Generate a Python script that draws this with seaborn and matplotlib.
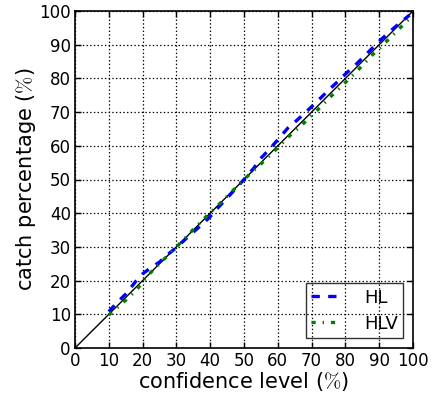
import matplotlib
matplotlib.use("Agg")
import matplotlib.pyplot as plt
import seaborn as sns
import pandas as pd

conf = [10, 12, 15, 18, 20, 22, 25, 28, 30, 33, 35, 38, 40, 42, 45, 48, 50, 53, 55, 58,
        60, 63, 65, 68, 70, 73, 75, 78, 80, 83, 85, 88, 90, 93, 95, 98, 99]
hl = [10.8, 13.0, 16.0, 19.8, 22.0, 23.5, 25.5, 28.2, 29.8, 32.6, 34.4, 37.0, 39.0, 41.3,
      44.5, 47.8, 50.0, 53.5, 56.3, 59.5, 61.8, 65.3, 67.0, 69.7, 71.6, 74.5, 76.5, 79.3,
      81.3, 84.0, 86.0, 89.0, 91.0, 93.8, 95.5, 98.0, 98.8]
hlv = [9.8, 11.5, 14.2, 17.0, 19.5, 22.0, 25.0, 28.0, 30.0, 33.0, 35.2, 38.2, 40.2, 42.0,
       45.0, 48.0, 50.0, 52.8, 54.6, 57.5, 59.4, 62.5, 64.3, 67.0, 69.0, 71.8, 74.0, 76.8,
       78.8, 81.7, 83.8, 87.0, 88.8, 91.8, 93.8, 96.8, 97.8]
ticks = [0, 10, 20, 30, 40, 50, 60, 70, 80, 90, 100]

sns.set_style("ticks")
plt.rcParams['font.family'] = ['DejaVu Sans']
plt.rcParams['mathtext.fontset'] = 'cm'
plt.rcParams['xtick.direction'] = 'in'
plt.rcParams['ytick.direction'] = 'in'
plt.rcParams['lines.scale_dashes'] = False
plt.rcParams['text.color'] = 'black'
plt.rcParams['axes.labelcolor'] = 'black'
plt.rcParams['xtick.color'] = 'black'
plt.rcParams['ytick.color'] = 'black'

fig = plt.figure(figsize=(4.35, 3.98), dpi=100)
ax = fig.add_axes([75/435, 50/398, 338/435, 337/398])

df = pd.DataFrame({"conf": conf, "HL": hl, "HLV": hlv})
ax.plot([0, 100], [0, 100], color='black', lw=1.0, zorder=2)
sns.lineplot(data=df, x="conf", y="HL", ax=ax, color='#0000ff', lw=2.4, label='HL',
             linestyle=(0, (6, 6)), zorder=3)
sns.lineplot(data=df, x="conf", y="HLV", ax=ax, color='#008000', lw=2.4, label='HLV',
             linestyle=(0, (3, 5, 1, 5)), zorder=3)

ax.set_xlim(0, 100)
ax.set_ylim(0, 100)
ax.set_xticks(ticks)
ax.set_yticks(ticks)
ax.tick_params(labelsize=12, top=True, right=True, length=4, width=1, color='black',
               labelcolor='black', pad=3)
ax.grid(True, color='black', linestyle=':', linewidth=0.9)
for s in ax.spines.values():
    s.set_linewidth(1.2)
    s.set_color('black')
ax.set_xlabel(r'confidence level ($\%$)', fontsize=15, labelpad=0, color='black')
ax.set_ylabel(r'catch percentage ($\%$)', fontsize=15, labelpad=1, color='black')

leg = ax.legend(loc='lower right', fontsize=13, fancybox=False, edgecolor='black',
                facecolor='none', framealpha=None, handlelength=1.4, handletextpad=1.5,
                labelspacing=0.45, borderpad=0.3, borderaxespad=0.55)
leg.get_frame().set_linewidth(1.0)

fig.savefig("out.png", dpi=100)
